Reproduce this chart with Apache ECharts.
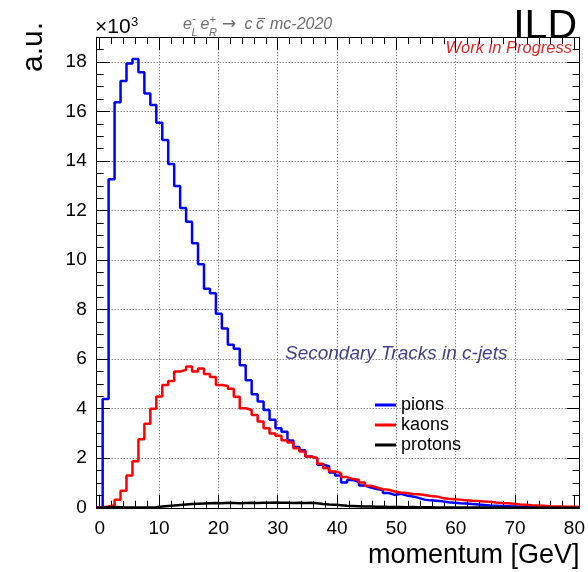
<!DOCTYPE html>
<html><head><meta charset="utf-8">
<script src="https://cdn.jsdelivr.net/npm/echarts@6/dist/echarts.min.js"></script>
<style>html,body{margin:0;padding:0;background:#fff}#c{width:588px;height:572px}</style>
</head><body><div id="c"></div>
<script>
// Histogram contents (entries / 10^3), one value per 1 GeV bin centred on 0,1,...,80 GeV
const binWidth = 1;
const pions = [
  0, 4.39, 13.26, 16.37, 17.23, 17.94, 18.12, 17.58, 16.73, 16.26,
  15.55, 14.85, 13.88, 12.99, 12.10, 11.55, 10.68, 9.83, 8.84, 8.66,
  7.83, 7.24, 6.58, 6.42, 5.76, 5.15, 4.58, 4.29, 3.95, 3.55,
  3.21, 3.07, 2.72, 2.45, 2.32, 2.07, 2.00, 1.74, 1.68, 1.43,
  1.30, 1.02, 1.12, 1.05, 0.90, 0.82, 0.76, 0.72, 0.60, 0.52,
  0.57, 0.50, 0.46, 0.40, 0.33, 0.30, 0.28, 0.26, 0.22, 0.20,
  0.18, 0.17, 0.15, 0.13, 0.11, 0.09, 0.08, 0.07, 0.06, 0.05,
  0.04, 0.03, 0.02, 0.01, 0, 0, 0, 0, 0, 0, 0
];
const kaons = [
  0, 0.05, 0.10, 0.32, 0.69, 1.30, 1.88, 2.77, 3.39, 4.00,
  4.49, 4.96, 5.12, 5.50, 5.57, 5.70, 5.50, 5.62, 5.40, 5.28,
  4.96, 4.92, 4.81, 4.48, 4.02, 3.95, 3.75, 3.48, 3.21, 3.00,
  2.91, 2.73, 2.64, 2.40, 2.27, 2.07, 2.00, 1.78, 1.60, 1.47,
  1.40, 1.24, 1.16, 1.13, 1.02, 0.89, 0.82, 0.75, 0.73, 0.66,
  0.62, 0.60, 0.56, 0.55, 0.52, 0.48, 0.46, 0.40, 0.37, 0.35,
  0.33, 0.30, 0.28, 0.27, 0.25, 0.24, 0.21, 0.19, 0.18, 0.16,
  0.13, 0.12, 0.10, 0.09, 0.08, 0.06, 0.05, 0.05, 0.04, 0.04, 0.03
];
const protons = [
  0.00, 0.02, 0.03, 0.02, 0.01, 0.01, 0.01, 0.01, 0.01, 0.02,
  0.05, 0.07, 0.09, 0.11, 0.13, 0.15, 0.16, 0.17, 0.18, 0.19,
  0.18, 0.20, 0.19, 0.18, 0.19, 0.20, 0.19, 0.20, 0.20, 0.21,
  0.20, 0.20, 0.19, 0.20, 0.19, 0.20, 0.18, 0.15, 0.13, 0.12,
  0.10, 0.08, 0.07, 0.06, 0.05, 0.05, 0.04, 0.04, 0.03, 0.03,
  0.03, 0.02, 0.03, 0.02, 0.02, 0.02, 0.01, 0.01, 0.01, 0.01,
  0.01, 0.01, 0.01, 0.01, 0.01, 0.00, 0.01, 0.00, 0.00, 0.00,
  0, 0, 0, 0, 0, 0, 0, 0, 0, 0, 0
];
const seriesNames = ['pions', 'kaons', 'protons'];
const seriesColors = ['#0000ff', '#ff0000', '#000000'];
const xTickInterval = 10, xMinorSplit = 5;
const yTickInterval = 2, yMinorInterval = 0.5;
const xRange = [-0.5, 80.5], xLabelRange = [0, 80], yRange = [0, 19];

function histSteps(vals) {
  const d = vals.map((v, i) => [i * binWidth - binWidth / 2, v]);
  d.push([vals.length * binWidth - binWidth / 2, vals[vals.length - 1]]);
  return d;
}

const FONT = '"Liberation Sans", Arial, Helvetica, sans-serif';
const frameGrid = { left: 96.7, right: 8.5, top: 37.2, bottom: 64.2 };
const tickGrid = { left: 99.7, right: 11.5, top: 37.2, bottom: 64.2 };
const black = { color: '#000', width: 1 };
const dotted = { color: '#555', width: 1, type: [1, 2] };

const chart = echarts.init(document.getElementById('c'), null, { renderer: 'canvas' });

function frameX(pos) {
  return { gridIndex: 0, type: 'value', min: xRange[0], max: xRange[1], position: pos,
    axisLine: { show: true, onZero: false, lineStyle: black },
    axisTick: { show: false }, axisLabel: { show: false }, splitLine: { show: false } };
}
function tickX(pos, labels) {
  return { gridIndex: 1, type: 'value', min: xLabelRange[0], max: xLabelRange[1], interval: xTickInterval, position: pos,
    axisLine: { show: false, onZero: false },
    axisTick: { show: true, inside: true, length: 13, lineStyle: black },
    minorTick: { show: true, splitNumber: xMinorSplit, length: 7, lineStyle: black },
    axisLabel: { show: labels, fontSize: 19, margin: 11, color: '#000', fontFamily: FONT },
    splitLine: { show: labels, showMinLine: false, showMaxLine: false, lineStyle: dotted } };
}
function majorY(pos, labels) {
  return { gridIndex: 0, type: 'value', min: yRange[0], max: yRange[1], interval: yTickInterval, position: pos,
    axisLine: { show: true, onZero: false, lineStyle: black },
    axisTick: { show: true, inside: true, length: 13, lineStyle: black },
    axisLabel: { show: labels, fontSize: 19, margin: 10, color: '#000', fontFamily: FONT, showMaxLabel: false },
    splitLine: { show: labels, showMinLine: false, showMaxLine: false, lineStyle: dotted } };
}
function minorY(pos) {
  return { gridIndex: 0, type: 'value', min: yRange[0], max: yRange[1], interval: yMinorInterval, position: pos,
    axisLine: { show: false, onZero: false },
    axisTick: { show: true, inside: true, length: 7, lineStyle: black },
    axisLabel: { show: false }, splitLine: { show: false } };
}

const dataSets = [pions, kaons, protons];
const series = seriesNames.map((name, k) => ({
  name, type: 'line', xAxisIndex: 0, yAxisIndex: 0, step: 'end', symbol: 'none',
  data: histSteps(dataSets[k]),
  lineStyle: { color: seriesColors[k], width: 2.5 }, itemStyle: { color: seriesColors[k] },
  animation: false, z: 3 + k
}));

const gray = '#6e6e6e';
const it16 = 'italic 16px ' + FONT;
const it11 = 'italic 11px ' + FONT;
chart.setOption({
  animation: false,
  grid: [frameGrid, tickGrid],
  xAxis: [frameX('bottom'), frameX('top'), tickX('bottom', true), tickX('top', false)],
  yAxis: [majorY('left', true), majorY('right', false), minorY('left'), minorY('right'),
    { gridIndex: 1, type: 'value', min: yRange[0], max: yRange[1], show: false }],
  legend: {
    orient: 'vertical', left: 370, top: 391, itemWidth: 21, itemHeight: 3, itemGap: 2,
    icon: 'rect', selectedMode: false, data: seriesNames,
    textStyle: { fontSize: 18, fontFamily: FONT, color: '#000', padding: [0, 0, 0, 0] }
  },
  series,
  graphic: [
    { type: 'text', x: 34, y: 22, rotation: Math.PI / 2,
      style: { text: 'a.u.', font: '30px ' + FONT, fill: '#000', align: 'right', verticalAlign: 'middle' } },
    { type: 'text', x: 579.5, y: 555.6,
      style: { text: 'momentum [GeV]', font: '27px ' + FONT, fill: '#000', align: 'right', verticalAlign: 'middle' } },
    { type: 'text', x: 95, y: 27.7,
      style: { text: '\u00d710', font: '21px ' + FONT, fill: '#000', align: 'left', verticalAlign: 'middle' } },
    { type: 'text', x: 131, y: 22,
      style: { text: '3', font: '13px ' + FONT, fill: '#000', align: 'left', verticalAlign: 'middle' } },
    { type: 'text', x: 577, y: 26.3,
      style: { text: 'ILD', font: '41px ' + FONT, fill: '#000', align: 'right', verticalAlign: 'middle' } },
    { type: 'text', x: 572, y: 48,
      style: { text: 'Work in Progress', font: 'italic 16.5px ' + FONT, fill: '#dd2626', align: 'right', verticalAlign: 'middle' } },
    { type: 'text', x: 285, y: 353.5,
      style: { text: 'Secondary Tracks in c-jets', font: 'italic 19px ' + FONT, fill: '#40408c', align: 'left', verticalAlign: 'middle' } },
    { type: 'text', x: 183, y: 24.2, style: { text: 'e', font: it16, fill: gray, align: 'left', verticalAlign: 'middle' } },
    { type: 'text', x: 192, y: 19, style: { text: '-', font: it11, fill: gray, align: 'left', verticalAlign: 'middle' } },
    { type: 'text', x: 191.5, y: 33, style: { text: 'L', font: it11, fill: gray, align: 'left', verticalAlign: 'middle' } },
    { type: 'text', x: 200.5, y: 24.2, style: { text: 'e', font: it16, fill: gray, align: 'left', verticalAlign: 'middle' } },
    { type: 'text', x: 209.5, y: 20, style: { text: '+', font: it11, fill: gray, align: 'left', verticalAlign: 'middle' } },
    { type: 'text', x: 209, y: 33, style: { text: 'R', font: it11, fill: gray, align: 'left', verticalAlign: 'middle' } },
    { type: 'text', x: 222, y: 25, style: { text: '\u2192', font: '17px "DejaVu Sans", sans-serif', fill: gray, align: 'left', verticalAlign: 'middle' } },
    { type: 'text', x: 244.5, y: 24.2, style: { text: 'c', font: it16, fill: gray, align: 'left', verticalAlign: 'middle' } },
    { type: 'text', x: 256, y: 24.2, style: { text: 'c', font: it16, fill: gray, align: 'left', verticalAlign: 'middle' } },
    { type: 'line', shape: { x1: 257.5, y1: 18.5, x2: 265, y2: 18.5 }, style: { stroke: gray, lineWidth: 1 } },
    { type: 'text', x: 270, y: 24.2, style: { text: 'mc-2020', font: it16, fill: gray, align: 'left', verticalAlign: 'middle' } }
  ]
});
</script>
</body></html>
